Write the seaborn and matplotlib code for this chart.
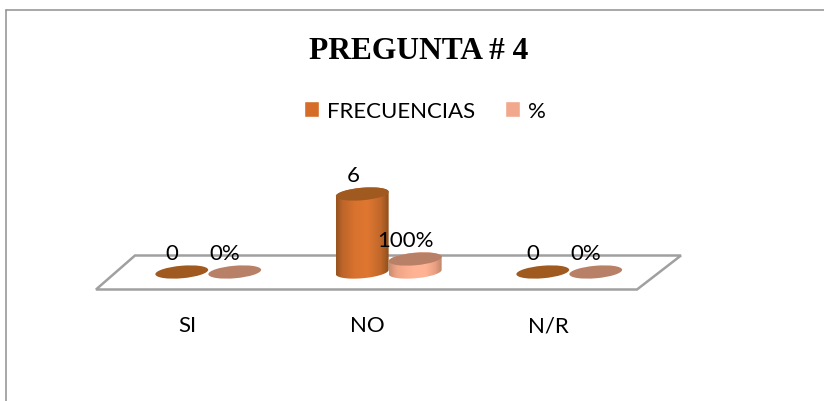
import numpy as np
import pandas as pd
import matplotlib
matplotlib.use("Agg")
import matplotlib.pyplot as plt
import seaborn as sns
from matplotlib.colors import LinearSegmentedColormap
from matplotlib.lines import Line2D
from matplotlib.patches import Ellipse, Polygon
from matplotlib.path import Path
from matplotlib.transforms import Affine2D, IdentityTransform, ScaledTranslation

categories = ["SI", "NO", "N/R"]
frecuencias = [0, 6, 0]
porcentajes = [0, 1, 0]
series_names = ["FRECUENCIAS", "%"]
title_text = "PREGUNTA # 4"

W, H, DPI = 824, 402, 100
BODY_COLOURS = {
    "FRECUENCIAS": [(0, "#96531e"), (0.12, "#bd652a"), (0.35, "#d8722e"),
                    (0.6, "#df7731"), (0.85, "#c0672b"), (1, "#8f4f1c")],
    "%": [(0, "#c98d72"), (0.15, "#f0a586"), (0.45, "#ffb394"),
          (0.7, "#ffb394"), (0.88, "#e89f81"), (1, "#bf866c")],
}
TOP_COLOURS = {"FRECUENCIAS": "#a0591f", "%": "#b98068"}
LEGEND_COLOURS = ["#d56d29", "#f2a88c"]
FLOOR_COLOUR = "#a0a0a0"
BORDER_COLOUR = "#909090"
TEXT_FONT = "Lato"
TEXT_SIZE = 16
TEXT_COLOUR = "#000000"
ELLIPSE_H, ELLIPSE_ANGLE = 12.5, 5


def px(x, y):
    """Pixel position measured from the top-left corner, as figure fractions."""
    return x / W, 1 - y / H


sns.set_theme(style="white")
plt.rcParams["font.family"] = [TEXT_FONT, "DejaVu Sans"]
plt.rcParams["legend.labelcolor"] = TEXT_COLOUR

table = pd.DataFrame({
    "categoria": categories * 2,
    "serie": [series_names[0]] * 3 + [series_names[1]] * 3,
    "valor": frecuencias + porcentajes,
})

fig = plt.figure(figsize=(W / DPI, H / DPI), dpi=DPI, facecolor="white")
left, bottom = px(118, 273)
ax = fig.add_axes([left, bottom, 541.5 / W, 91 / H])
ax.patch.set_alpha(0)

sns.barplot(
    data=table, x="categoria", y="valor", hue="serie",
    palette=LEGEND_COLOURS, width=0.587, gap=0, saturation=1,
    ax=ax, zorder=3,
)
ax.set_xlim(-0.5, 2.5)
ax.set_ylim(0, 7)
ax.set_xlabel("")
ax.set_ylabel("")
ax.set_yticks([])
sns.despine(ax=ax, left=True, bottom=True)

# Category labels hang well below the floor, shifted left by the perspective.
ax.tick_params(axis="x", length=0, pad=31, labelsize=TEXT_SIZE, labelcolor=TEXT_COLOUR)
shift = ScaledTranslation(-21 / DPI, 0, fig.dpi_scale_trans)
for label in ax.get_xticklabels():
    label.set_transform(label.get_transform() + shift)

# Floor of the 3D plot
floor_px = [(96, 290.5), (637, 290.5), (681, 256.5), (135, 256.5)]
ax.add_patch(Polygon(
    [px(*p) for p in floor_px], closed=True, facecolor="white",
    edgecolor=FLOOR_COLOUR, linewidth=1.8, transform=fig.transFigure,
    clip_on=False, zorder=1,
))


def ellipse_outline(cx, cy, width, start, stop):
    t = np.linspace(start, stop, 60)
    a = np.deg2rad(ELLIPSE_ANGLE)
    ex, ey = width / 2 * np.cos(t), ELLIPSE_H / 2 * np.sin(t)
    return np.column_stack([cx + ex * np.cos(a) - ey * np.sin(a),
                            cy + ex * np.sin(a) + ey * np.cos(a)])


# Turn each flat bar into a cylinder using the bar's own position and height.
for order, (name, container) in enumerate(zip(series_names, ax.containers)):
    cmap = LinearSegmentedColormap.from_list(name, BODY_COLOURS[name])
    for bar in container:
        bar.set_visible(False)
        x0, width, value = bar.get_x(), bar.get_width(), bar.get_height()
        (dx0, dy0), (dx1, dy1) = ax.transData.transform([(x0, 0), (x0 + width, value)])
        cx, w = (dx0 + dx1) / 2, dx1 - dx0
        if value > 0:
            outline = np.vstack([
                ellipse_outline(cx, dy0, w, np.pi, 2 * np.pi),
                ellipse_outline(cx, dy1, w, 0, np.pi),
            ])
            body = ax.imshow(
                np.linspace(0, 1, 128)[None, :], cmap=cmap, aspect="auto",
                extent=(x0, x0 + width, -1, value + 1),
                zorder=3 + order, interpolation="bilinear",
            )
            body.set_clip_path(Path(outline, closed=True), IdentityTransform())
            body.set_clip_box(fig.bbox)
        ax.add_patch(Ellipse(
            (0, 0), w, ELLIPSE_H, angle=ELLIPSE_ANGLE,
            facecolor=TOP_COLOURS[name], edgecolor="none",
            transform=Affine2D().translate(cx, dy1), clip_on=False,
            zorder=3.5 + order,
        ))

    # Value labels sit above and slightly left of each cylinder top.
    for bar in container:
        value = bar.get_height()
        text = f"{value:.0%}" if name == "%" else f"{value:.0f}"
        ax.annotate(
            text, (bar.get_x() + bar.get_width() / 2, value),
            xytext=(-9.5 * 72 / DPI, 19 * 72 / DPI), textcoords="offset points",
            ha="center", va="center", fontsize=TEXT_SIZE, color=TEXT_COLOUR,
            annotation_clip=False, zorder=8,
        )
ax.set_xlim(-0.5, 2.5)
ax.set_ylim(0, 7)

sns.move_legend(
    ax, "center left", bbox_to_anchor=px(304, 112),
    bbox_transform=fig.transFigure, ncols=2, frameon=False, title=None,
    fontsize=TEXT_SIZE, handlelength=0.68, handleheight=0.72, handletextpad=0.36,
    columnspacing=1.35, borderpad=0, borderaxespad=0,
)

x, y = px(419, 51.5)
fig.text(x, y, title_text, ha="center", va="center", fontsize=22.7,
         fontweight="bold", family="Liberation Serif", color="#000000")

# Outer frame: only the top and left edges are present
fig.add_artist(Line2D([px(5.5, 0)[0], 1], [px(0, 10.5)[1]] * 2, color=BORDER_COLOUR, lw=1.1))
fig.add_artist(Line2D([px(5.5, 0)[0]] * 2, [0, px(0, 10.5)[1]], color=BORDER_COLOUR, lw=1.1))

fig.savefig("out.png", dpi=DPI)
